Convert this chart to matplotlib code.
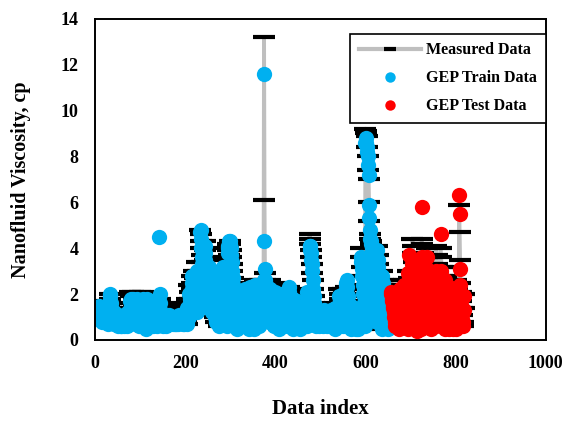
import matplotlib
matplotlib.use("Agg")
import matplotlib.pyplot as plt
from matplotlib.lines import Line2D
import numpy as np

# measured viscosity (cp) for training rows, data index 1..655
measured_train = [
    1.6, 1.5, 1.4, 1.3, 1.2, 1.1, 1.0, 0.9, 1.7, 1.5, 1.3, 1.2, 1.1, 1.0, 0.9, 0.8, 1.5, 1.3, 1.2, 1.0,
    0.9, 0.8, 1.4, 1.2, 1.1, 1.0, 0.9, 0.8, 0.7, 1.6, 1.5, 1.4, 2.0, 1.8, 1.6, 1.4, 1.2, 1.1, 1.0, 0.9,
    0.8, 0.7, 1.3, 1.2, 1.1, 1.0, 0.9, 0.8, 0.7, 0.6, 1.2, 1.1, 1.0, 0.9, 0.8, 0.7, 0.7, 0.6, 1.1, 1.0,
    0.9, 0.8, 0.7, 0.6, 1.2, 1.1, 1.0, 0.9, 0.8, 0.7, 0.6, 1.3, 1.2, 1.1, 0.9, 0.8, 0.7, 2.1, 1.9, 1.6,
    1.4, 1.2, 1.0, 0.8, 2.1, 1.8, 1.5, 1.3, 1.1, 0.9, 0.7, 2.0, 1.7, 1.4, 1.2, 1.0, 0.8, 0.6, 2.1, 1.9,
    1.6, 1.4, 1.2, 1.0, 0.8, 0.6, 2.1, 1.8, 1.6, 1.3, 1.1, 0.9, 0.7, 0.5, 1.7, 1.5, 1.3, 1.1, 0.9, 0.7,
    1.6, 1.5, 1.3, 1.1, 1.0, 0.9, 0.8, 0.7, 0.6, 1.4, 1.3, 1.2, 1.0, 0.9, 0.8, 0.7, 0.6, 1.5, 1.4, 1.3,
    1.4, 1.6, 1.8, 1.5, 1.2, 1.0, 0.9, 0.8, 0.7, 0.6, 1.1, 1.0, 0.9, 0.8, 0.8, 0.7, 0.7, 0.6, 1.0, 0.9,
    0.9, 0.8, 0.8, 0.7, 1.5, 1.3, 1.1, 1.0, 0.9, 0.8, 0.8, 0.7, 1.0, 0.9, 0.9, 0.8, 0.8, 0.7, 0.7, 1.0,
    0.9, 0.9, 0.8, 0.8, 0.7, 1.6, 1.3, 1.1, 1.0, 0.9, 0.8, 0.9, 0.9, 0.8, 0.8, 0.7, 0.7, 1.0, 0.9, 0.9,
    0.8, 0.8, 0.7, 1.8, 1.6, 1.4, 1.2, 1.0, 2.4, 2.1, 1.8, 1.5, 1.2, 2.8, 2.5, 2.2, 1.9, 1.6, 1.3, 3.0,
    2.7, 2.4, 2.1, 1.8, 1.5, 1.2, 3.4, 3.0, 2.6, 2.2, 1.9, 1.6, 4.8, 4.6, 4.3, 4.0, 3.7, 3.4, 3.1, 2.8,
    2.5, 2.2, 4.3, 3.9, 3.5, 3.2, 2.9, 2.6, 2.3, 2.0, 1.7, 1.4, 3.5, 3.1, 2.7, 2.4, 2.1, 1.8, 1.5, 1.2,
    2.8, 2.5, 2.2, 1.9, 1.6, 1.3, 1.0, 0.8, 2.4, 2.1, 1.8, 1.5, 1.2, 1.0, 0.8, 0.6, 2.0, 1.7, 1.4, 1.1,
    0.9, 0.7, 4.0, 3.6, 3.2, 2.8, 2.4, 2.0, 1.6, 1.3, 1.0, 0.8, 0.6, 4.2, 4.0, 3.9, 3.7, 3.5, 4.3, 4.2,
    3.9, 3.6, 3.3, 3.0, 2.7, 2.4, 2.1, 1.8, 1.6, 1.4, 1.2, 1.0, 0.8, 0.7, 0.6, 0.5, 2.2, 2.0, 1.8, 1.6,
    1.4, 1.2, 1.0, 0.8, 0.6, 1.8, 1.6, 1.4, 1.2, 1.0, 0.8, 0.6, 2.4, 2.1, 1.9, 1.7, 1.5, 1.3, 1.1, 0.9,
    0.7, 0.5, 2.5, 2.3, 2.1, 1.9, 1.7, 1.5, 1.3, 1.1, 0.9, 0.7, 0.5, 2.6, 2.4, 2.2, 2.0, 1.8, 1.6, 1.4,
    1.2, 1.0, 0.8, 0.6, 2.6, 2.4, 2.2, 2.0, 1.8, 1.6, 1.4, 1.2, 1.0, 2.5, 13.2, 6.1, 2.9, 2.6, 2.4, 2.2,
    2.0, 1.8, 1.6, 1.4, 1.2, 1.0, 0.8, 2.6, 2.4, 2.2, 2.0, 1.8, 1.6, 1.4, 1.2, 1.0, 0.8, 0.6, 2.5, 2.3,
    2.1, 1.9, 1.7, 1.5, 1.3, 1.1, 0.9, 0.7, 0.5, 2.4, 2.2, 2.0, 1.8, 1.6, 1.4, 1.2, 1.0, 0.8, 0.6, 2.2,
    2.0, 1.8, 1.6, 1.4, 1.2, 1.0, 0.8, 0.6, 2.1, 2.3, 2.1, 1.9, 1.7, 1.5, 1.3, 1.1, 0.9, 0.7, 0.5, 2.0,
    1.8, 1.6, 1.4, 1.2, 1.0, 0.8, 0.6, 1.9, 1.7, 1.5, 1.3, 1.1, 0.9, 0.7, 0.5, 1.2, 1.1, 1.0, 0.9, 0.8,
    0.7, 0.6, 1.3, 1.2, 1.1, 1.0, 0.9, 0.8, 0.7, 0.6, 2.2, 2.0, 1.8, 1.6, 1.4, 4.6, 4.4, 4.2, 3.9, 3.6,
    3.3, 2.9, 2.6, 2.2, 1.9, 1.6, 1.3, 1.0, 0.8, 0.6, 1.4, 1.2, 1.1, 1.0, 0.9, 0.8, 0.7, 0.6, 1.3, 1.2,
    1.1, 1.0, 0.9, 0.8, 0.7, 0.6, 1.5, 1.4, 1.2, 1.1, 1.0, 0.9, 0.8, 0.7, 0.6, 1.2, 1.1, 1.0, 0.9, 0.8,
    0.7, 0.6, 1.4, 1.3, 1.2, 1.1, 1.0, 0.9, 0.8, 0.7, 0.6, 0.5, 1.6, 1.4, 1.3, 1.1, 1.0, 0.9, 0.8, 0.7,
    0.6, 2.2, 2.0, 1.8, 1.6, 1.4, 1.2, 1.0, 0.8, 0.6, 2.2, 2.1, 1.9, 1.7, 1.5, 1.3, 2.3, 2.2, 2.0, 1.9,
    1.7, 1.5, 1.3, 1.1, 0.9, 0.7, 0.5, 1.6, 1.4, 1.2, 1.0, 0.8, 0.6, 1.5, 1.3, 1.1, 0.9, 0.7, 0.5, 1.3,
    1.1, 0.9, 0.7, 0.5, 1.4, 1.2, 1.0, 0.8, 0.6, 4.0, 3.6, 3.2, 2.8, 2.4, 2.0, 1.6, 1.2, 0.9, 0.6, 9.2,
    9.1, 9.0, 8.9, 8.4, 8.0, 7.4, 7.0, 6.0, 5.2, 4.6, 4.4, 4.3, 4.2, 4.0, 3.8, 3.5, 3.2, 2.9, 2.6, 2.3,
    2.0, 1.7, 1.4, 1.1, 0.8, 4.1, 3.7, 3.3, 2.9, 2.5, 2.1, 1.7, 1.3, 1.0, 0.7, 0.5, 3.0, 2.6, 2.2, 1.8,
    1.5, 1.2, 0.9, 0.6, 2.1, 1.8, 1.5, 1.2, 0.9, 0.7, 0.5, 1.4, 1.1, 0.8, 0.6,
]

# GEP predictions for the same training rows
gep_train = [
    1.4, 1.3, 1.3, 1.2, 1.1, 1.0, 0.9, 0.9, 1.5, 1.4, 1.2, 1.1, 1.0, 0.9, 0.9, 0.8, 1.3, 1.2, 1.1, 0.9,
    0.9, 0.8, 1.3, 1.2, 1.0, 0.9, 0.9, 0.8, 0.7, 1.5, 1.6, 1.7, 2.0, 1.9, 1.6, 1.4, 1.2, 1.0, 1.0, 0.9,
    0.8, 0.7, 1.2, 1.1, 1.0, 1.0, 0.9, 0.8, 0.7, 0.6, 1.1, 1.0, 1.0, 0.9, 0.8, 0.7, 0.6, 0.6, 1.0, 1.0,
    0.9, 0.8, 0.7, 0.6, 1.1, 1.0, 0.9, 0.9, 0.8, 0.7, 0.6, 1.2, 1.1, 1.0, 0.9, 0.8, 0.7, 1.7, 1.8, 1.5,
    1.4, 1.2, 1.0, 0.8, 1.8, 1.7, 1.5, 1.2, 1.0, 0.9, 0.7, 1.8, 1.6, 1.4, 1.2, 1.0, 0.8, 0.6, 1.7, 1.6,
    1.5, 1.4, 1.2, 1.0, 0.8, 0.6, 1.8, 1.7, 1.5, 1.3, 1.1, 0.9, 0.7, 0.5, 1.8, 1.6, 1.3, 1.1, 0.9, 0.7,
    1.5, 1.4, 1.3, 1.1, 1.0, 0.9, 0.8, 0.7, 0.6, 1.3, 1.2, 1.1, 1.0, 0.9, 0.8, 0.7, 0.6, 1.6, 1.5, 1.4,
    1.6, 4.5, 2.0, 1.6, 1.3, 1.0, 0.9, 0.8, 0.7, 0.6, 1.1, 1.0, 0.9, 0.8, 0.8, 0.7, 0.7, 0.6, 1.0, 0.9,
    0.9, 0.8, 0.8, 0.7, 1.1, 1.0, 1.0, 0.9, 0.9, 0.8, 0.8, 0.7, 0.9, 0.9, 0.8, 0.8, 0.8, 0.7, 0.7, 0.9,
    0.9, 0.9, 0.8, 0.8, 0.7, 1.1, 1.0, 1.0, 0.9, 0.9, 0.8, 0.9, 0.8, 0.8, 0.8, 0.7, 0.7, 0.9, 0.9, 0.8,
    0.8, 0.8, 0.7, 1.4, 1.3, 1.2, 1.1, 1.0, 2.0, 1.8, 1.6, 1.4, 1.2, 2.8, 2.5, 2.2, 1.9, 1.6, 1.3, 2.6,
    2.6, 2.3, 2.0, 1.8, 1.5, 1.2, 3.0, 2.7, 2.4, 2.1, 1.8, 1.6, 4.7, 4.8, 4.4, 4.0, 3.6, 3.3, 3.0, 2.7,
    2.5, 2.2, 4.1, 3.8, 3.5, 3.2, 2.9, 2.6, 2.3, 2.0, 1.7, 1.4, 3.2, 3.0, 2.7, 2.4, 2.1, 1.8, 1.5, 1.2,
    2.6, 2.4, 2.1, 1.9, 1.6, 1.3, 1.0, 0.8, 2.2, 2.0, 1.7, 1.5, 1.2, 1.0, 0.8, 0.6, 1.8, 1.6, 1.4, 1.1,
    0.9, 0.7, 3.2, 3.0, 2.8, 2.6, 2.3, 2.0, 1.6, 1.3, 1.0, 0.8, 0.6, 3.8, 4.0, 4.1, 4.2, 4.3, 4.3, 4.2,
    4.0, 3.7, 3.4, 3.0, 2.7, 2.4, 2.1, 1.8, 1.6, 1.4, 1.2, 1.0, 0.8, 0.7, 0.6, 0.5, 2.0, 1.8, 1.7, 1.5,
    1.3, 1.2, 1.0, 0.8, 0.6, 1.7, 1.5, 1.4, 1.2, 1.0, 0.8, 0.6, 2.2, 2.0, 1.9, 1.7, 1.5, 1.3, 1.1, 0.9,
    0.7, 0.5, 2.3, 2.2, 2.1, 1.9, 1.7, 1.5, 1.3, 1.1, 0.9, 0.7, 0.5, 2.4, 2.3, 2.2, 2.0, 1.8, 1.6, 1.4,
    1.2, 1.0, 0.8, 0.6, 2.4, 2.3, 2.1, 2.0, 1.8, 1.6, 1.4, 1.2, 1.0, 2.6, 11.6, 4.3, 3.1, 2.6, 2.4, 2.2,
    2.0, 1.8, 1.6, 1.4, 1.2, 1.0, 0.8, 2.2, 2.1, 2.0, 1.9, 1.8, 1.6, 1.4, 1.2, 1.0, 0.8, 0.6, 2.1, 2.0,
    1.9, 1.8, 1.7, 1.5, 1.3, 1.1, 0.9, 0.7, 0.5, 2.0, 1.9, 1.8, 1.7, 1.6, 1.4, 1.2, 1.0, 0.8, 0.6, 2.0,
    1.9, 1.8, 1.6, 1.4, 1.2, 1.0, 0.8, 0.6, 2.0, 2.3, 2.1, 1.9, 1.7, 1.5, 1.3, 1.1, 0.9, 0.7, 0.5, 1.8,
    1.7, 1.5, 1.4, 1.2, 1.0, 0.8, 0.6, 1.7, 1.6, 1.5, 1.3, 1.1, 0.9, 0.7, 0.5, 1.1, 1.0, 1.0, 0.9, 0.8,
    0.7, 0.6, 1.2, 1.1, 1.0, 1.0, 0.9, 0.8, 0.7, 0.6, 2.1, 1.9, 1.8, 1.6, 1.4, 3.9, 4.1, 4.1, 3.8, 3.5,
    3.3, 3.0, 2.6, 2.2, 1.9, 1.6, 1.3, 1.0, 0.8, 0.6, 1.3, 1.2, 1.1, 1.0, 0.9, 0.8, 0.7, 0.6, 1.2, 1.1,
    1.0, 1.0, 0.9, 0.8, 0.7, 0.6, 1.3, 1.2, 1.1, 1.0, 1.0, 0.9, 0.8, 0.7, 0.6, 1.1, 1.0, 1.0, 0.9, 0.8,
    0.7, 0.6, 1.3, 1.2, 1.1, 1.0, 1.0, 0.9, 0.8, 0.7, 0.6, 0.5, 1.4, 1.3, 1.2, 1.1, 1.0, 0.9, 0.8, 0.7,
    0.6, 1.9, 1.8, 1.7, 1.5, 1.3, 1.2, 1.0, 0.8, 0.6, 2.0, 2.0, 1.9, 1.7, 1.5, 1.3, 2.4, 2.5, 2.6, 2.3,
    1.9, 1.6, 1.3, 1.1, 0.9, 0.7, 0.5, 1.5, 1.4, 1.2, 1.0, 0.8, 0.6, 1.4, 1.3, 1.1, 0.9, 0.7, 0.5, 1.2,
    1.0, 0.9, 0.7, 0.5, 1.3, 1.2, 1.0, 0.8, 0.6, 3.6, 3.4, 3.1, 2.8, 2.4, 2.0, 1.6, 1.2, 0.9, 0.6, 8.6,
    8.8, 8.6, 8.4, 8.2, 8.0, 7.6, 7.2, 5.9, 5.3, 4.8, 4.4, 4.3, 4.2, 4.0, 3.8, 3.5, 3.2, 2.9, 2.6, 2.3,
    2.0, 1.7, 1.4, 1.1, 0.8, 3.9, 3.5, 3.2, 2.8, 2.4, 2.1, 1.7, 1.3, 1.0, 0.7, 0.5, 2.8, 2.5, 2.1, 1.8,
    1.5, 1.2, 0.9, 0.6, 1.9, 1.7, 1.5, 1.2, 0.9, 0.7, 0.5, 1.3, 1.1, 0.8, 0.6,
]

# measured viscosity for testing rows, data index 656..819
measured_test = [
    2.6, 2.4, 2.2, 2.0, 1.8, 1.6, 1.4, 1.2, 1.0, 0.8, 0.6, 2.2, 2.0, 1.8, 1.6, 1.4, 1.2, 1.0, 0.8, 0.6,
    2.4, 2.2, 2.0, 1.8, 1.6, 1.4, 1.2, 1.0, 0.8, 0.6, 2.6, 2.3, 2.0, 1.7, 1.4, 1.1, 0.9, 0.7, 0.5, 3.0,
    2.7, 2.4, 2.1, 1.8, 1.5, 1.2, 0.9, 0.6, 4.4, 4.1, 3.8, 3.4, 3.0, 2.6, 2.2, 1.8, 1.4, 1.0, 0.7, 0.5,
    3.5, 3.1, 2.7, 2.3, 1.9, 1.5, 1.1, 0.8, 0.5, 4.4, 4.2, 3.8, 3.4, 3.0, 2.6, 2.2, 1.8, 1.4, 1.0, 0.6,
    4.0, 3.6, 3.2, 2.8, 2.4, 2.0, 1.6, 1.2, 0.9, 0.6, 3.6, 3.3, 3.0, 2.7, 2.4, 2.1, 1.8, 1.5, 1.2, 0.9,
    0.6, 4.1, 3.7, 3.3, 2.9, 2.5, 2.1, 1.7, 1.3, 1.0, 0.7, 4.0, 3.6, 3.2, 2.8, 2.4, 2.0, 1.6, 1.2, 0.8,
    0.5, 3.2, 2.8, 2.4, 2.0, 1.7, 1.4, 1.1, 0.8, 0.5, 2.6, 2.3, 2.0, 1.7, 1.4, 1.1, 0.9, 0.7, 0.5, 2.2,
    1.9, 1.6, 1.3, 1.0, 0.7, 0.5, 2.6, 2.2, 1.8, 1.4, 1.0, 0.7, 5.9, 4.7, 3.5, 2.5, 2.1, 1.7, 1.4, 1.1,
    0.8, 0.6, 2.0, 1.4,
]

gep_test = [
    2.1, 2.0, 1.9, 1.8, 1.7, 1.5, 1.4, 1.2, 1.0, 0.8, 0.6, 1.9, 1.8, 1.7, 1.6, 1.4, 1.2, 1.0, 0.8, 0.5,
    2.2, 2.1, 2.0, 1.8, 1.6, 1.4, 1.2, 1.0, 0.8, 0.6, 2.4, 2.2, 2.0, 1.8, 1.5, 1.1, 0.9, 0.7, 0.5, 2.9,
    3.7, 2.8, 2.3, 1.9, 1.5, 1.2, 0.9, 0.6, 3.3, 3.1, 2.9, 2.7, 2.5, 2.3, 2.1, 1.8, 1.4, 1.0, 0.7, 0.4,
    3.0, 2.7, 2.4, 2.1, 1.8, 1.5, 1.2, 0.8, 0.5, 3.6, 5.8, 3.5, 3.2, 2.9, 2.6, 2.2, 1.8, 1.4, 1.0, 0.6,
    3.1, 3.6, 3.0, 2.6, 2.3, 2.0, 1.6, 1.2, 0.9, 0.5, 2.9, 2.7, 2.5, 2.3, 2.1, 1.9, 1.7, 1.4, 1.1, 0.8,
    0.6, 3.0, 2.8, 2.6, 2.4, 2.2, 1.9, 1.6, 1.3, 1.0, 0.7, 4.6, 3.0, 2.7, 2.5, 2.2, 1.9, 1.6, 1.2, 0.8,
    0.5, 2.6, 2.4, 2.2, 1.9, 1.7, 1.4, 1.1, 0.8, 0.5, 2.3, 2.1, 1.9, 1.7, 1.4, 1.1, 0.9, 0.7, 0.5, 1.9,
    1.7, 1.5, 1.3, 1.0, 0.7, 0.5, 2.2, 2.0, 1.7, 1.4, 1.0, 0.7, 6.3, 5.5, 3.1, 2.4, 2.0, 1.7, 1.4, 1.1,
    0.8, 0.6, 1.9, 1.3,
]

x_ticks = [0, 200, 400, 600, 800, 1000]
y_ticks = [0, 2, 4, 6, 8, 10, 12, 14]

plt.rcParams['font.family'] = ['Liberation Serif', 'DejaVu Serif']
plt.rcParams['font.weight'] = 'bold'

measured = measured_train + measured_test
idx_all = np.arange(1, len(measured) + 1)
idx_train = np.arange(1, len(gep_train) + 1)
idx_test = np.arange(len(gep_train) + 1, len(gep_train) + len(gep_test) + 1)

fig = plt.figure(figsize=(5.66, 4.21), dpi=100)
ax = fig.add_axes([0.168, 0.1924, 0.796, 0.7636])

ax.plot(idx_all, measured, color='#BFBFBF', lw=2.8, marker='_', ms=16.5,
        mew=3.0, mec='black', mfc='black', zorder=1)
ax.plot(idx_train, gep_train, ls='none', marker='o', ms=11, color='#00B0F0',
        mec='none', zorder=2)
ax.plot(idx_test, gep_test, ls='none', marker='o', ms=11, color='#FF0000',
        mec='none', zorder=3)

ax.set_xlim(0, 1000)
ax.set_ylim(0, 14)
ax.set_xticks(x_ticks)
ax.set_yticks(y_ticks)
ax.tick_params(length=0, labelsize=13)
ax.tick_params(axis='x', pad=11)
ax.tick_params(axis='y', pad=12)
for sp in ax.spines.values():
    sp.set_linewidth(1.4)
    sp.set_color('black')

ax.set_xlabel('Data index', fontsize=15, fontweight='bold', labelpad=19)
ax.set_ylabel('Nanofluid Viscosity, cp', fontsize=14.5, fontweight='bold', labelpad=21)

handles = [
    Line2D([], [], color='#BFBFBF', lw=3, marker='_', ms=8, mew=3, mec='black'),
    Line2D([], [], ls='none', marker='o', ms=7.5, color='#00B0F0', mec='none'),
    Line2D([], [], ls='none', marker='o', ms=7.5, color='#FF0000', mec='none'),
]
labels = ['Measured Data', 'GEP Train Data', 'GEP Test Data']
leg = ax.legend(handles, labels, loc='upper right', bbox_to_anchor=(1.0, 0.953),
                borderaxespad=0, fancybox=False, framealpha=1, edgecolor='black',
                prop={'size': 11.5, 'weight': 'bold'}, handlelength=3.9,
                handletextpad=0.3, labelspacing=0.75, borderpad=0.55)
leg.get_frame().set_linewidth(1.2)

fig.savefig('out.png', dpi=100)
